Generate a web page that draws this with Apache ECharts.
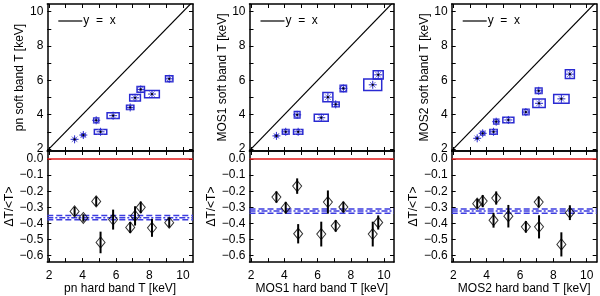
<!DOCTYPE html>
<html><head><meta charset="utf-8">
<script src="https://cdn.jsdelivr.net/npm/echarts@6/dist/echarts.min.js"></script>
<style>html,body{margin:0;padding:0;background:#fff}#c{width:600px;height:296px}</style>
</head><body><div id="c"></div>
<script>
// ---- data ----
const detectors = ['pn', 'MOS1', 'MOS2'];
const xTicks = [2, 3, 4, 5, 6, 7, 8, 9, 10];
const xLabels = [2, 4, 6, 8, 10];
const yTopTicks = [2, 3, 4, 5, 6, 7, 8, 9, 10];
const yTopLabels = [2, 4, 6, 8, 10];
const yBotLabels = [0, -0.1, -0.2, -0.3, -0.4, -0.5, -0.6];
const legendText = 'y  =  x';

const pnHard    = [3.53, 4.05, 4.82, 5.08, 5.83, 6.85, 7.14, 7.48, 8.15, 9.18];
const pnHardErr = [0.06, 0.10, 0.15, 0.37, 0.36, 0.22, 0.32, 0.22, 0.44, 0.22];
const pnSoft    = [2.56, 2.81, 3.67, 3.00, 3.94, 4.42, 4.98, 5.47, 5.20, 6.09];
const pnSoftErr = [0.05, 0.08, 0.14, 0.14, 0.17, 0.12, 0.19, 0.17, 0.21, 0.17];
const pnRatio   = [-0.325, -0.366, -0.263, -0.518, -0.376, -0.425, -0.353, -0.300, -0.427, -0.395];
const pnRatioErr= [0.028, 0.023, 0.030, 0.067, 0.062, 0.034, 0.060, 0.036, 0.056, 0.030];
const pnMean = -0.364;

const mos1Hard    = [3.52, 4.08, 4.83, 4.77, 6.22, 6.62, 7.09, 7.55, 9.32, 9.65];
const mos1HardErr = [0.08, 0.20, 0.28, 0.17, 0.42, 0.30, 0.21, 0.19, 0.54, 0.30];
const mos1Soft    = [2.76, 3.00, 3.00, 3.99, 3.82, 5.02, 4.60, 5.53, 5.74, 6.32];
const mos1SoftErr = [0.07, 0.14, 0.14, 0.19, 0.20, 0.27, 0.14, 0.19, 0.34, 0.24];
const mos1Ratio   = [-0.236, -0.302, -0.464, -0.168, -0.466, -0.267, -0.415, -0.298, -0.466, -0.394];
const mos1RatioErr= [0.035, 0.036, 0.060, 0.048, 0.077, 0.072, 0.036, 0.033, 0.077, 0.044];
const mos1Mean = -0.323;

const mos2Hard    = [3.43, 3.76, 4.41, 4.57, 5.30, 6.35, 7.12, 7.14, 8.48, 8.99];
const mos2HardErr = [0.07, 0.12, 0.22, 0.15, 0.33, 0.19, 0.20, 0.37, 0.46, 0.27];
const mos2Soft    = [2.62, 2.91, 3.00, 3.59, 3.69, 4.15, 5.39, 4.66, 4.92, 6.36];
const mos2SoftErr = [0.06, 0.10, 0.14, 0.14, 0.16, 0.16, 0.16, 0.25, 0.26, 0.26];
const mos2Ratio   = [-0.277, -0.261, -0.380, -0.242, -0.355, -0.421, -0.267, -0.421, -0.530, -0.333];
const mos2RatioErr= [0.030, 0.038, 0.046, 0.041, 0.070, 0.036, 0.034, 0.072, 0.075, 0.046];
const mos2Mean = -0.323;

const panels = [
  {name: 'pn', hard: pnHard, hardErr: pnHardErr, soft: pnSoft, softErr: pnSoftErr, ratio: pnRatio, ratioErr: pnRatioErr, mean: pnMean},
  {name: 'MOS1', hard: mos1Hard, hardErr: mos1HardErr, soft: mos1Soft, softErr: mos1SoftErr, ratio: mos1Ratio, ratioErr: mos1RatioErr, mean: mos1Mean},
  {name: 'MOS2', hard: mos2Hard, hardErr: mos2HardErr, soft: mos2Soft, softErr: mos2SoftErr, ratio: mos2Ratio, ratioErr: mos2RatioErr, mean: mos2Mean}
];

// ---- layout / style ----
const X_MIN = 1.9, X_MAX = 10.6;
const YT_MIN = 1.88, YT_MAX = 10.45;
const YB_MIN = -0.64, YB_MAX = 0.05;
const lefts = [47.3, 249.5, 451.7];
const widths = [145.7, 144.5, 145];
const FONT = 'Liberation Sans';
const BLUE = '#2a2ad2';
const BAND = '#3c3ce0';

const chart = echarts.init(document.getElementById('c'), null, {renderer: 'canvas'});

function fmtNeg(v) {
  const s = Math.abs(v).toFixed(1);
  return (v < -1e-9 ? '\u2212' : '') + s;
}

const grid = [], xAxis = [], yAxis = [], series = [], graphic = [];

function axisBase(extra) {
  return Object.assign({
    axisLine: {show: true, onZero: false, lineStyle: {color: '#000', width: 1.5}},
    splitLine: {show: false},
    axisLabel: {show: false},
    axisTick: {show: true, inside: true, length: 4, lineStyle: {color: '#000', width: 1}}
  }, extra);
}

function boxItem(params, api) {
  const x = api.value(0), y = api.value(1), ex = api.value(2), ey = api.value(3);
  const p0 = api.coord([x - ex, y + ey]);
  const p1 = api.coord([x + ex, y - ey]);
  const c = api.coord([x, y]);
  const r = 4;
  const children = [{
    type: 'rect',
    shape: {x: p0[0], y: p0[1], width: p1[0] - p0[0], height: p1[1] - p0[1]},
    style: {fill: 'none', stroke: BLUE, lineWidth: 1.5}
  }];
  for (let k = 0; k < 4; k++) {
    const a = k * Math.PI / 4;
    children.push({type: 'line', shape: {x1: c[0] - r * Math.cos(a), y1: c[1] - r * Math.sin(a), x2: c[0] + r * Math.cos(a), y2: c[1] + r * Math.sin(a)},
      style: {stroke: k % 2 ? '#7777cc' : BLUE, lineWidth: 1}});
  }
  children.push({type: 'circle', shape: {cx: c[0], cy: c[1], r: 1.1}, style: {fill: '#000'}});
  return {type: 'group', children};
}

function errItem(params, api) {
  const x = api.value(0), y = api.value(1), e = api.value(2);
  const a = api.coord([x, y + e]), b = api.coord([x, y - e]);
  return {type: 'line', shape: {x1: a[0], y1: a[1], x2: b[0], y2: b[1]}, style: {stroke: '#000', lineWidth: 2}};
}

panels.forEach((p, i) => {
  const gt = 2 * i, gb = 2 * i + 1;
  grid.push({left: lefts[i], top: 4, width: widths[i], height: 147});
  grid.push({left: lefts[i], top: 151, width: widths[i], height: 113});

  // top grid axes
  xAxis.push(axisBase({gridIndex: gt, type: 'value', min: X_MIN, max: X_MAX, position: 'bottom',
    axisTick: {show: true, inside: true, length: 4, customValues: xTicks, lineStyle: {color: '#000', width: 1}}}));
  xAxis.push(axisBase({gridIndex: gt, type: 'value', min: X_MIN, max: X_MAX, position: 'top',
    axisTick: {show: true, inside: true, length: 4, customValues: xTicks, lineStyle: {color: '#000', width: 1}}}));
  yAxis.push(axisBase({gridIndex: gt, type: 'value', min: YT_MIN, max: YT_MAX, position: 'left',
    axisTick: {show: true, inside: true, length: 4, customValues: yTopTicks, lineStyle: {color: '#000', width: 1}},
    axisLabel: {show: true, customValues: yTopLabels, margin: 4, fontFamily: FONT, fontSize: 12, color: '#000'},
    name: p.name + ' soft band T [keV]', nameLocation: 'middle', nameGap: 21,
    nameTextStyle: {fontFamily: FONT, fontSize: 12, color: '#000'}}));
  yAxis.push(axisBase({gridIndex: gt, type: 'value', min: YT_MIN, max: YT_MAX, position: 'right',
    axisTick: {show: true, inside: true, length: 4, customValues: yTopTicks, lineStyle: {color: '#000', width: 1}}}));

  // bottom grid axes
  xAxis.push(axisBase({gridIndex: gb, type: 'value', min: X_MIN, max: X_MAX, position: 'bottom',
    axisTick: {show: true, inside: true, length: 4, customValues: xTicks, lineStyle: {color: '#000', width: 1}},
    axisLabel: {show: true, customValues: xLabels, margin: 8, fontFamily: FONT, fontSize: 12, color: '#000'},
    name: p.name + ' hard band T [keV]', nameLocation: 'middle', nameGap: 17,
    nameTextStyle: {fontFamily: FONT, fontSize: 12, color: '#000'}}));
  xAxis.push(axisBase({gridIndex: gb, type: 'value', min: X_MIN, max: X_MAX, position: 'top',
    axisTick: {show: true, inside: true, length: 4, customValues: xTicks, lineStyle: {color: '#000', width: 1}}}));
  yAxis.push(axisBase({gridIndex: gb, type: 'value', min: YB_MIN, max: YB_MAX, position: 'left',
    axisTick: {show: true, inside: true, length: 4, customValues: yBotLabels, lineStyle: {color: '#000', width: 1}},
    axisLabel: {show: true, customValues: yBotLabels, margin: 4, formatter: fmtNeg, fontFamily: FONT, fontSize: 12, color: '#000'},
    name: '\u0394T/<T>', nameLocation: 'middle', nameGap: 29,
    nameTextStyle: {fontFamily: FONT, fontSize: 12, color: '#000'}}));
  yAxis.push(axisBase({gridIndex: gb, type: 'value', min: YB_MIN, max: YB_MAX, position: 'right',
    axisTick: {show: true, inside: true, length: 4, customValues: yBotLabels, lineStyle: {color: '#000', width: 1}}}));

  const xt = 2 * gt, yt = 2 * gt, xb = 2 * gb, yb = 2 * gb;

  // y = x line
  series.push({type: 'line', name: legendText, xAxisIndex: xt, yAxisIndex: yt, symbol: 'none', clip: true,
    data: [[X_MIN, X_MIN], [X_MAX, X_MAX]], lineStyle: {color: '#000', width: 1.2}, silent: true, animation: false});
  // error boxes
  series.push({type: 'custom', xAxisIndex: xt, yAxisIndex: yt, renderItem: boxItem, clip: true, animation: false,
    encode: {x: 0, y: 1},
    data: p.hard.map((h, k) => [h, p.soft[k], p.hardErr[k], p.softErr[k]])});

  // zero line
  series.push({type: 'line', xAxisIndex: xb, yAxisIndex: yb, symbol: 'none', animation: false,
    data: [[X_MIN, 0], [X_MAX, 0]], lineStyle: {color: '#e01818', width: 1.5}, silent: true});
  // mean band
  series.push({type: 'line', xAxisIndex: xb, yAxisIndex: yb, symbol: 'none', animation: false,
    data: [[X_MIN, p.mean + 0.013], [X_MAX, p.mean + 0.013]], lineStyle: {color: BAND, width: 1.5, type: [6, 3]}, silent: true});
  series.push({type: 'line', xAxisIndex: xb, yAxisIndex: yb, symbol: 'none', animation: false,
    data: [[X_MIN, p.mean - 0.013], [X_MAX, p.mean - 0.013]], lineStyle: {color: BAND, width: 1.5, type: [6, 3]}, silent: true});
  series.push({type: 'line', xAxisIndex: xb, yAxisIndex: yb, symbol: 'none', animation: false,
    data: [[X_MIN, p.mean], [X_MAX, p.mean]], lineStyle: {color: BAND, width: 1.5, type: [6, 2, 2, 2]}, silent: true});
  // diamonds
  series.push({type: 'scatter', xAxisIndex: xb, yAxisIndex: yb, symbol: 'diamond', symbolSize: [9, 11], animation: false,
    itemStyle: {color: 'rgba(0,0,0,0)', borderColor: '#000', borderWidth: 1},
    data: p.hard.map((h, k) => [h, p.ratio[k]]), z: 3});
  // error bars
  series.push({type: 'custom', xAxisIndex: xb, yAxisIndex: yb, renderItem: errItem, animation: false, z: 4,
    encode: {x: 0, y: 1},
    data: p.hard.map((h, k) => [h, p.ratio[k], p.ratioErr[k]])});

  // legend: line sample + text
  graphic.push({type: 'line', shape: {x1: lefts[i] + 11, y1: 21, x2: lefts[i] + 35, y2: 21},
    style: {stroke: '#000', lineWidth: 1.2}, silent: true});
  graphic.push({type: 'text', x: lefts[i] + 36, y: 21,
    style: {text: legendText, fontFamily: FONT, fontSize: 12, fill: '#000', textVerticalAlign: 'middle', verticalAlign: 'middle'}, silent: true});
});

chart.setOption({animation: false, backgroundColor: '#fff', grid, xAxis, yAxis, series, graphic});
</script></body></html>
